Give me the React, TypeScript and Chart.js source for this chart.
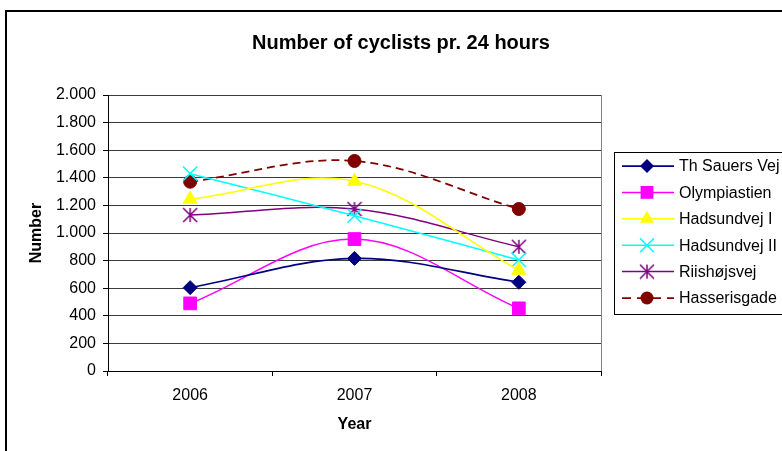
import React, { useEffect, useRef } from 'react';
import { Chart, registerables } from 'chart.js';

Chart.register(...registerables);

// ---- data ----
const years = ['2006', '2007', '2008'];
const seriesNames = ['Th Sauers Vej', 'Olympiastien', 'Hadsundvej I', 'Hadsundvej II', 'Riishøjsvej', 'Hasserisgade'];
const thSauersVej = [604, 816, 643];
const olympiastien = [490, 956, 454];
const hadsundvejI = [1245, 1375, 730];
const hadsundvejII = [1430, 1125, 805];
const riishojsvej = [1130, 1174, 900];
const hasserisgade = [1372, 1522, 1174];
const yMin = 0;
const yMax = 2000;
const yStep = 200;
const chartTitle = 'Number of cyclists pr. 24 hours';
const xTitle = 'Year';
const yTitle = 'Number';

const FONT = '"Liberation Sans", Arial, sans-serif';

function formatThousands(v: number): string {
  return String(Math.round(v)).replace(/\B(?=(\d{3})+(?!\d))/g, '.');
}

function makeAsterisk(color: string): HTMLCanvasElement {
  const size = 16;
  const c = document.createElement('canvas');
  c.width = size;
  c.height = size;
  const ctx = c.getContext('2d')!;
  const m = size / 2;
  const h = 7;
  ctx.strokeStyle = color;
  ctx.lineWidth = 1.5;
  ctx.beginPath();
  ctx.moveTo(m - h, m - h); ctx.lineTo(m + h, m + h);
  ctx.moveTo(m + h, m - h); ctx.lineTo(m - h, m + h);
  ctx.moveTo(m, m - h); ctx.lineTo(m, m + h);
  ctx.stroke();
  return c;
}

type Kind = 'diamond' | 'square' | 'triangle' | 'x' | 'asterisk' | 'circle';

function drawMarker(ctx: CanvasRenderingContext2D, kind: Kind, x: number, y: number, color: string, img?: HTMLCanvasElement) {
  ctx.save();
  ctx.fillStyle = color;
  ctx.strokeStyle = color;
  ctx.setLineDash([]);
  ctx.beginPath();
  switch (kind) {
    case 'diamond':
      ctx.moveTo(x, y - 7); ctx.lineTo(x + 7, y); ctx.lineTo(x, y + 7); ctx.lineTo(x - 7, y); ctx.closePath();
      ctx.fill();
      break;
    case 'square':
      ctx.fillRect(x - 6.4, y - 6.4, 12.8, 12.8);
      break;
    case 'triangle': {
      const r = 8;
      ctx.moveTo(x, y - r);
      ctx.lineTo(x + r * Math.sin(Math.PI * 2 / 3), y + r / 2);
      ctx.lineTo(x - r * Math.sin(Math.PI * 2 / 3), y + r / 2);
      ctx.closePath();
      ctx.fill();
      break;
    }
    case 'x':
      ctx.lineWidth = 1.5;
      ctx.moveTo(x - 7, y - 7); ctx.lineTo(x + 7, y + 7);
      ctx.moveTo(x + 7, y - 7); ctx.lineTo(x - 7, y + 7);
      ctx.stroke();
      break;
    case 'asterisk':
      if (img) ctx.drawImage(img, x - img.width / 2, y - img.height / 2);
      break;
    case 'circle':
      ctx.arc(x, y, 6.5, 0, Math.PI * 2);
      ctx.fill();
      break;
  }
  ctx.restore();
}

export default function App() {
  const ref = useRef<HTMLCanvasElement | null>(null);

  useEffect(() => {
    document.body.style.margin = '0';
    const canvas = ref.current;
    if (!canvas) return;
    const asterisk = makeAsterisk('#800080');

    const series = [
      { name: seriesNames[0], data: thSauersVej, color: '#000080', pointStyle: 'rectRot', radius: 7, kind: 'diamond' as Kind, dash: [] as number[], width: 1.75 },
      { name: seriesNames[1], data: olympiastien, color: '#FF00FF', pointStyle: 'rect', radius: 9, kind: 'square' as Kind, dash: [], width: 1.5 },
      { name: seriesNames[2], data: hadsundvejI, color: '#FFFF00', pointStyle: 'triangle', radius: 8, kind: 'triangle' as Kind, dash: [], width: 1.5 },
      { name: seriesNames[3], data: hadsundvejII, color: '#00FFFF', pointStyle: 'crossRot', radius: 10, kind: 'x' as Kind, dash: [], width: 1.5 },
      { name: seriesNames[4], data: riishojsvej, color: '#800080', pointStyle: asterisk as any, radius: 8, kind: 'asterisk' as Kind, dash: [], width: 1.5 },
      { name: seriesNames[5], data: hasserisgade, color: '#800000', pointStyle: 'circle', radius: 6.5, kind: 'circle' as Kind, dash: [8, 5], width: 1.75 },
    ];

    const decorPlugin = {
      id: 'decor',
      beforeDraw(chart: any) {
        const ctx = chart.ctx as CanvasRenderingContext2D;
        ctx.save();
        ctx.fillStyle = '#ffffff';
        ctx.fillRect(0, 0, chart.width, chart.height);
        ctx.restore();
      },
      afterDraw(chart: any) {
        const ctx = chart.ctx as CanvasRenderingContext2D;
        const area = chart.chartArea;
        ctx.save();
        // outer frame
        ctx.strokeStyle = '#000';
        ctx.lineWidth = 2;
        ctx.strokeRect(6, 11, chart.width + 20, chart.height + 20);
        // plot right border
        ctx.strokeStyle = '#808080';
        ctx.lineWidth = 1;
        ctx.beginPath();
        ctx.moveTo(Math.round(area.right) + 0.5, area.top);
        ctx.lineTo(Math.round(area.right) + 0.5, area.bottom);
        ctx.stroke();
        // title
        ctx.fillStyle = '#000';
        ctx.font = `bold 20px ${FONT}`;
        ctx.textAlign = 'center';
        ctx.textBaseline = 'middle';
        ctx.fillText(chartTitle, 401, 43);
        // legend
        const lx = 614, ly = 152, lh = 162;
        ctx.lineWidth = 1;
        ctx.strokeStyle = '#000';
        ctx.strokeRect(lx + 0.5, ly + 0.5, chart.width - lx + 10, lh);
        ctx.font = `16px ${FONT}`;
        ctx.textAlign = 'left';
        ctx.textBaseline = 'middle';
        series.forEach((s, i) => {
          const y = 166 + i * 26.4;
          ctx.save();
          ctx.strokeStyle = s.color;
          ctx.lineWidth = s.width;
          ctx.setLineDash(s.dash.length ? [9, 6] : []);
          ctx.beginPath();
          ctx.moveTo(622, y);
          ctx.lineTo(674, y);
          ctx.stroke();
          ctx.restore();
          drawMarker(ctx, s.kind, 647, y, s.color, asterisk);
          ctx.fillStyle = '#000';
          ctx.fillText(s.name, 679, y + 1);
        });
        ctx.restore();
      },
    };

    const chart = new Chart(canvas, {
      type: 'line',
      data: {
        labels: years,
        datasets: series.map((s) => ({
          label: s.name,
          data: s.data,
          borderColor: s.color,
          backgroundColor: s.color,
          borderWidth: s.width,
          borderDash: s.dash,
          pointStyle: s.pointStyle as any,
          pointRadius: s.radius,
          pointHoverRadius: s.radius,
          pointBorderWidth: s.kind === 'x' ? 1.5 : 1,
          pointBackgroundColor: s.color,
          pointBorderColor: s.color,
          tension: 0.35,
          fill: false,
        })),
      },
      options: {
        animation: false,
        responsive: false,
        devicePixelRatio: 1,
        layout: { padding: { left: 7, top: 95, right: 181, bottom: 0 } },
        plugins: {
          legend: { display: false },
          title: { display: false },
          tooltip: { enabled: false },
        },
        scales: {
          x: {
            type: 'category',
            offset: true,
            grid: { offset: true, drawOnChartArea: false, drawTicks: true, tickLength: 5, color: '#000', lineWidth: 1 },
            border: { color: '#000', width: 1 },
            ticks: { color: '#000', font: { family: FONT, size: 16 }, padding: 10, maxRotation: 0 },
            title: { display: true, text: xTitle, color: '#000', font: { family: FONT, size: 16, weight: 'bold' }, padding: { top: 0, bottom: 17 } },
            afterFit: (s: any) => { s.height = 80; },
          },
          y: {
            min: yMin,
            max: yMax,
            ticks: {
              stepSize: yStep,
              color: '#000',
              font: { family: FONT, size: 16 },
              padding: 7,
              callback: (v: any) => formatThousands(Number(v)),
            },
            grid: { color: '#3a3a3a', lineWidth: 1, tickLength: 5, tickColor: '#000', drawTicks: true },
            border: { color: '#000', width: 1 },
            title: { display: true, text: yTitle, color: '#000', font: { family: FONT, size: 16, weight: 'bold' }, padding: { top: 20, bottom: 0 } },
            afterFit: (s: any) => { s.width = 101; },
          },
        },
      },
      plugins: [decorPlugin],
    });

    return () => { chart.destroy(); };
  }, []);

  return (
    <div style={{ position: 'fixed', left: 0, top: 0, width: 782, height: 451, background: '#fff' }}>
      <canvas ref={ref} width={782} height={451} style={{ display: 'block', width: 782, height: 451 }} />
    </div>
  );
}
